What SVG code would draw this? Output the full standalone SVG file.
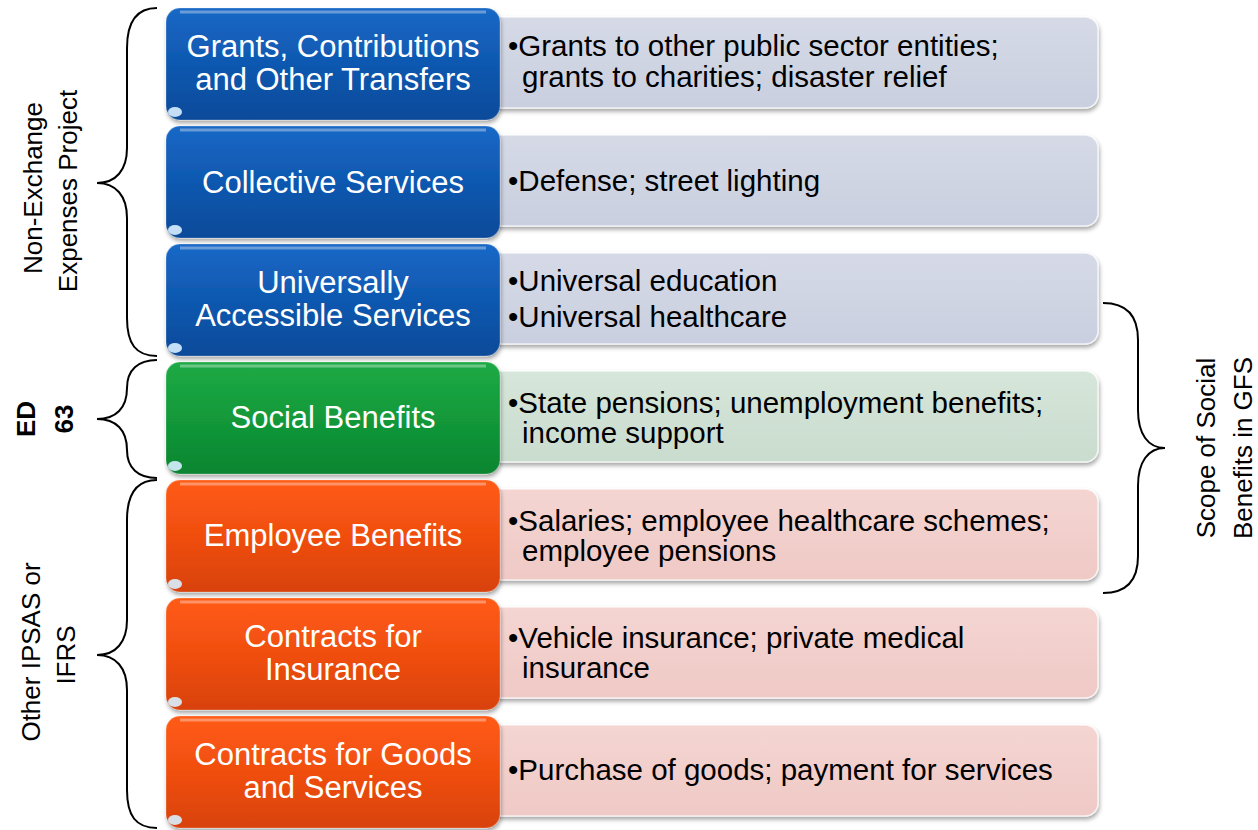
<svg xmlns="http://www.w3.org/2000/svg" width="1258" height="830" viewBox="0 0 1258 830">
<defs>
<linearGradient id="gBlue" x1="0" y1="0" x2="0" y2="1"><stop offset="0" stop-color="#1A68C6"/><stop offset="0.5" stop-color="#0F58B0"/><stop offset="1" stop-color="#0A4A9A"/></linearGradient>
<linearGradient id="gGreen" x1="0" y1="0" x2="0" y2="1"><stop offset="0" stop-color="#1EAA45"/><stop offset="0.5" stop-color="#12993A"/><stop offset="1" stop-color="#0B8530"/></linearGradient>
<linearGradient id="gOrange" x1="0" y1="0" x2="0" y2="1"><stop offset="0" stop-color="#FF5B16"/><stop offset="0.5" stop-color="#F04E10"/><stop offset="1" stop-color="#D8420A"/></linearGradient>
<linearGradient id="rBlue" x1="0" y1="0" x2="0" y2="1"><stop offset="0" stop-color="#D6DAE7"/><stop offset="1" stop-color="#C9CFDF"/></linearGradient>
<linearGradient id="rGreen" x1="0" y1="0" x2="0" y2="1"><stop offset="0" stop-color="#D6E6DA"/><stop offset="1" stop-color="#C9DCCE"/></linearGradient>
<linearGradient id="rPink" x1="0" y1="0" x2="0" y2="1"><stop offset="0" stop-color="#F4D5D2"/><stop offset="1" stop-color="#EFC9C5"/></linearGradient>
<filter id="sh" x="-5%" y="-10%" width="110%" height="125%"><feDropShadow dx="1" dy="3" stdDeviation="2" flood-color="#000" flood-opacity="0.35"/></filter>
</defs>
<style>
.lt{font-family:"Liberation Sans",Arial,sans-serif;font-size:31px;fill:#fff;text-anchor:middle}
.rt{font-family:"Liberation Sans",Arial,sans-serif;font-size:29.5px;fill:#000}
.lab{font-family:"Liberation Sans",Arial,sans-serif;font-size:26px;fill:#000;text-anchor:middle}
.labb{font-family:"Liberation Sans",Arial,sans-serif;font-size:26px;font-weight:bold;fill:#000;text-anchor:middle}
.brace{fill:none;stroke:#000;stroke-width:2}
.rbox{stroke:#fff;stroke-opacity:0.7;stroke-width:1.5}
.lbox{stroke:#fff;stroke-opacity:0.25;stroke-width:1}
.hl{fill:none;stroke:#fff;stroke-opacity:0.35;stroke-width:3}
.spot{fill:#D8F0FF;opacity:0.9}
</style>

<g id="details">
<rect class="rbox" x="488" y="17" width="610" height="91" rx="13" fill="url(#rBlue)" filter="url(#sh)"/>
<rect class="rbox" x="488" y="135" width="610" height="91" rx="13" fill="url(#rBlue)" filter="url(#sh)"/>
<rect class="rbox" x="488" y="253" width="610" height="91" rx="13" fill="url(#rBlue)" filter="url(#sh)"/>
<rect class="rbox" x="488" y="371" width="610" height="91" rx="13" fill="url(#rGreen)" filter="url(#sh)"/>
<rect class="rbox" x="488" y="489" width="610" height="91" rx="13" fill="url(#rPink)" filter="url(#sh)"/>
<rect class="rbox" x="488" y="607" width="610" height="91" rx="13" fill="url(#rPink)" filter="url(#sh)"/>
<rect class="rbox" x="488" y="725" width="610" height="91" rx="13" fill="url(#rPink)" filter="url(#sh)"/>
<text class="rt" x="508" y="56">•Grants to other public sector entities;</text>
<text class="rt" x="522" y="87">grants to charities; disaster relief</text>
<text class="rt" x="508" y="191">•Defense; street lighting</text>
<text class="rt" x="508" y="291">•Universal education</text>
<text class="rt" x="508" y="327">•Universal healthcare</text>
<text class="rt" x="508" y="413">•State pensions; unemployment benefits;</text>
<text class="rt" x="522" y="443">income support</text>
<text class="rt" x="508" y="531">•Salaries; employee healthcare schemes;</text>
<text class="rt" x="522" y="561">employee pensions</text>
<text class="rt" x="508" y="648">•Vehicle insurance; private medical</text>
<text class="rt" x="522" y="678">insurance</text>
<text class="rt" x="508" y="780">•Purchase of goods; payment for services</text>
</g>

<g id="node-grants">
<rect class="lbox" x="166" y="8" width="334" height="112" rx="14" fill="url(#gBlue)" filter="url(#sh)"/>
<path class="hl" d="M180,12 H486"/>
<ellipse class="spot" cx="175" cy="112" rx="7" ry="5"/>
<text class="lt" x="333" y="56.5">Grants, Contributions</text>
<text class="lt" x="333" y="89.5">and Other Transfers</text>
</g>
<g id="node-collective">
<rect class="lbox" x="166" y="126" width="334" height="112" rx="14" fill="url(#gBlue)" filter="url(#sh)"/>
<path class="hl" d="M180,130 H486"/>
<ellipse class="spot" cx="175" cy="230" rx="7" ry="5"/>
<text class="lt" x="333" y="193">Collective Services</text>
</g>
<g id="node-universal">
<rect class="lbox" x="166" y="244" width="334" height="112" rx="14" fill="url(#gBlue)" filter="url(#sh)"/>
<path class="hl" d="M180,248 H486"/>
<ellipse class="spot" cx="175" cy="348" rx="7" ry="5"/>
<text class="lt" x="333" y="292.5">Universally</text>
<text class="lt" x="333" y="325.5">Accessible Services</text>
</g>
<g id="node-social">
<rect class="lbox" x="166" y="362" width="334" height="112" rx="14" fill="url(#gGreen)" filter="url(#sh)"/>
<path class="hl" d="M180,366 H486"/>
<ellipse class="spot" cx="175" cy="466" rx="7" ry="5"/>
<text class="lt" x="333" y="428">Social Benefits</text>
</g>
<g id="node-employee">
<rect class="lbox" x="166" y="480" width="334" height="112" rx="14" fill="url(#gOrange)" filter="url(#sh)"/>
<path class="hl" d="M180,484 H486"/>
<ellipse class="spot" cx="175" cy="584" rx="7" ry="5" fill="#FFF3D8"/>
<text class="lt" x="333" y="546">Employee Benefits</text>
</g>
<g id="node-insurance">
<rect class="lbox" x="166" y="598" width="334" height="112" rx="14" fill="url(#gOrange)" filter="url(#sh)"/>
<path class="hl" d="M180,602 H486"/>
<ellipse class="spot" cx="175" cy="702" rx="7" ry="5" fill="#FFF3D8"/>
<text class="lt" x="333" y="646.5">Contracts for</text>
<text class="lt" x="333" y="679.5">Insurance</text>
</g>
<g id="node-goods">
<rect class="lbox" x="166" y="716" width="334" height="112" rx="14" fill="url(#gOrange)" filter="url(#sh)"/>
<path class="hl" d="M180,720 H486"/>
<ellipse class="spot" cx="175" cy="820" rx="7" ry="5" fill="#FFF3D8"/>
<text class="lt" x="333" y="764.5">Contracts for Goods</text>
<text class="lt" x="333" y="797.5">and Services</text>
</g>

<g id="connectors">
<path class="brace" d="M157,8 C136,8 127,22 127,48 L127,148 C127,170 116,183 97,183 C116,183 127,196 127,218 L127,318 C127,344 136,356 157,356"/>
<path class="brace" d="M157,360 C138,360 127,370 127,388 C127,408 116,419 97,419 C116,419 127,430 127,450 C127,468 138,478 157,478"/>
<path class="brace" d="M157,480 C136,480 127,494 127,520 L127,620 C127,642 116,655 97,655 C116,655 127,668 127,690 L127,790 C127,816 136,828 157,828"/>
<path class="brace" d="M1103,303 C1126,303 1138,315 1138,340 L1138,410 C1138,434 1148,448 1165,448 C1148,448 1138,462 1138,486 L1138,556 C1138,581 1126,593 1103,593"/>
</g>

<g id="labels">
<text class="lab" transform="translate(42,188) rotate(-90)">Non-Exchange</text>
<text class="lab" transform="translate(77,191) rotate(-90)">Expenses Project</text>
<text class="labb" transform="translate(35,419) rotate(-90)">ED</text>
<text class="labb" transform="translate(73,419) rotate(-90)">63</text>
<text class="lab" transform="translate(40,652) rotate(-90)">Other IPSAS or</text>
<text class="lab" transform="translate(75,655) rotate(-90)">IFRS</text>
<text class="lab" transform="translate(1215,448) rotate(-90)">Scope of Social</text>
<text class="lab" transform="translate(1252,448) rotate(-90)">Benefits in GFS</text>
</g>
</svg>
